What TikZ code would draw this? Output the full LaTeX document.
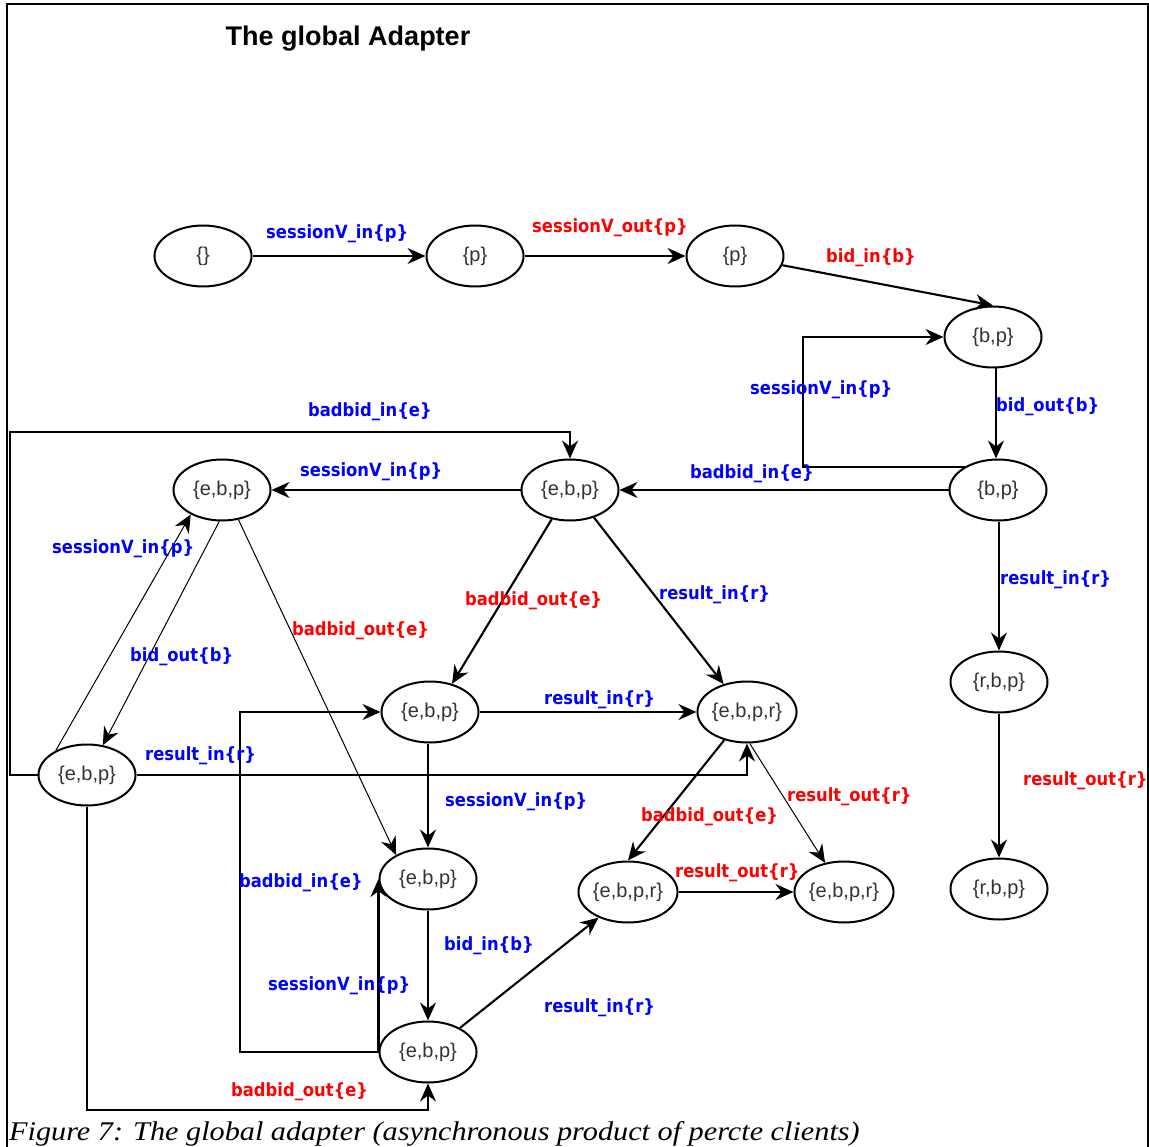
\documentclass[tikz,border=0pt]{standalone}
\usepackage{fontspec}
\setmainfont{Liberation Sans}
\newfontfamily\lblfont{DejaVu Sans}[FakeStretch=0.9]
\newfontfamily\capfont{Liberation Serif}[FakeStretch=1.12]
\usetikzlibrary{arrows.meta,shapes.geometric}

\begin{document}
\begin{tikzpicture}[x=1pt,y=-1pt,
  state/.style={draw, line width=2pt, ellipse, minimum width=97pt,
    minimum height=61pt, inner sep=0pt,
    font=\fontsize{20}{21}\selectfont, text=black!80},
  conn/.style={line width=2.1pt, -{Stealth[length=18pt,width=16pt,inset=6pt]}},
  fineconn/.style={line width=1pt, -{Stealth[length=18pt,width=16pt,inset=6pt]}},
  lbl/.style={font=\lblfont\bfseries\fontsize{18.2}{20}\selectfont,
    inner sep=0pt, anchor=west},
  bl/.style={lbl, text=blue},
  rd/.style={lbl, text=red}]

\fill[white] (0,0) rectangle (1149,1147);
\useasboundingbox (0,0) rectangle (1149,1147);

% frame
\draw[line width=2pt] (7,1147) -- (7,4) -- (1148,4) -- (1148,1147);

% title and caption
\node[font=\bfseries\fontsize{27}{30}\selectfont] (title) at (348,39) {The global Adapter};
\node[font=\capfont\itshape\fontsize{27}{30}\selectfont, anchor=base west, inner sep=0pt]
  (caption) at (9,1140) {Figure 7: The global adapter (asynchronous product of percte clients)};

% states
\node[state] (n0)  at (203,256)  {\{\}};
\node[state] (n1)  at (475,256)  {\{p\}};
\node[state] (n2)  at (735,256)  {\{p\}};
\node[state] (n3)  at (993,337)  {\{b,p\}};
\node[state] (n4)  at (998,490)  {\{b,p\}};
\node[state] (n5)  at (570,490)  {\{e,b,p\}};
\node[state] (n6)  at (222,490)  {\{e,b,p\}};
\node[state] (n7)  at (87,775)   {\{e,b,p\}};
\node[state] (n8)  at (430,712)  {\{e,b,p\}};
\node[state] (n9)  at (747,712)  {\{e,b,p,r\}};
\node[state] (n10) at (999,682)  {\{r,b,p\}};
\node[state] (n11) at (428,879)  {\{e,b,p\}};
\node[state] (n12) at (628,892)  {\{e,b,p,r\}};
\node[state] (n13) at (844,892)  {\{e,b,p,r\}};
\node[state] (n14) at (999,889)  {\{r,b,p\}};
\node[state] (n15) at (428,1052) {\{e,b,p\}};

% bend points and vertical guides of the routed connectors
\coordinate (lpA) at (803,400);
\coordinate (lpB) at (10,432);
\coordinate (lpC) at (240,900);
\coordinate (lpD) at (200,1110);
\coordinate (v34) at (996,0);

% transitions
\draw[conn] (n0) -- (n1);
\draw[conn] (n1) -- (n2);
\draw[conn] (n2.-11) -- (n3.north);
\draw[conn] (n4.145) -| (lpA) |- (n3.west);
\draw[conn] (n3.south -| v34) -- (n4.north -| v34);
\draw[conn] (n4) -- (n5);
\draw[conn] (n5) -- (n6);
\draw[conn] (n7.west) -| (lpB) -| (n5.north);
\draw[fineconn] (n7.142) -- (n6.-142);
\draw[fineconn] (n6.-95) -- (n7.62);
\draw[fineconn] (n6.-61) -- (n11.143);
\draw[conn] (n5.-122) -- (n8.52);
\draw[conn] (n5.-49) -- (n9.130);
\draw[conn] (n8) -- (n9);
\draw[conn] (n7.east) -| (n9.south);
\draw[conn] (n8.south -| n11) -- (n11.north);
\draw[conn] (n4.south -| n10) -- (n10.north);
\draw[conn] (n10) -- (n14);
\draw[conn] (n9.-129) -- (n12.north);
\draw[fineconn] (n9.-85) -- (n13.123);
\draw[conn] (n12) -- (n13);
\draw[conn] (n11) -- (n15);
\draw[conn] (n15.west) -- (n11.west);
\draw[conn] (n15.west) -| (lpC) |- (n8.west);
\draw[conn] (n15.37) -- (n12.-139);
\draw[conn] (n7.south) |- (lpD) -| (n15.south);

% transition labels
\node[bl] (t1)  at (266,234)  {sessionV\_in\{p\}};
\node[rd] (t2)  at (532,228)  {sessionV\_out\{p\}};
\node[rd] (t3)  at (826,258)  {bid\_in\{b\}};
\node[bl] (t4)  at (750,390)  {sessionV\_in\{p\}};
\node[bl] (t5)  at (996,407)  {bid\_out\{b\}};
\node[bl] (t6)  at (690,474)  {badbid\_in\{e\}};
\node[bl] (t7)  at (308,412)  {badbid\_in\{e\}};
\node[bl] (t8)  at (300,472)  {sessionV\_in\{p\}};
\node[bl] (t9)  at (52,549)   {sessionV\_in\{p\}};
\node[bl] (t10) at (130,657)  {bid\_out\{b\}};
\node[rd] (t11) at (292,631)  {badbid\_out\{e\}};
\node[rd] (t12) at (465,601)  {badbid\_out\{e\}};
\node[bl] (t13) at (659,595)  {result\_in\{r\}};
\node[bl] (t14) at (544,700)  {result\_in\{r\}};
\node[bl] (t15) at (145,756)  {result\_in\{r\}};
\node[bl] (t16) at (445,802)  {sessionV\_in\{p\}};
\node[bl] (t17) at (1000,580) {result\_in\{r\}};
\node[rd] (t18) at (1023,781) {result\_out\{r\}};
\node[rd] (t19) at (641,817)  {badbid\_out\{e\}};
\node[rd] (t20) at (787,797)  {result\_out\{r\}};
\node[rd] (t21) at (675,873)  {result\_out\{r\}};
\node[bl] (t22) at (444,946)  {bid\_in\{b\}};
\node[bl] (t23) at (268,986)  {sessionV\_in\{p\}};
\node[bl] (t24) at (239,883)  {badbid\_in\{e\}};
\node[bl] (t25) at (544,1008) {result\_in\{r\}};
\node[rd] (t26) at (231,1092) {badbid\_out\{e\}};
\end{tikzpicture}
\end{document}
